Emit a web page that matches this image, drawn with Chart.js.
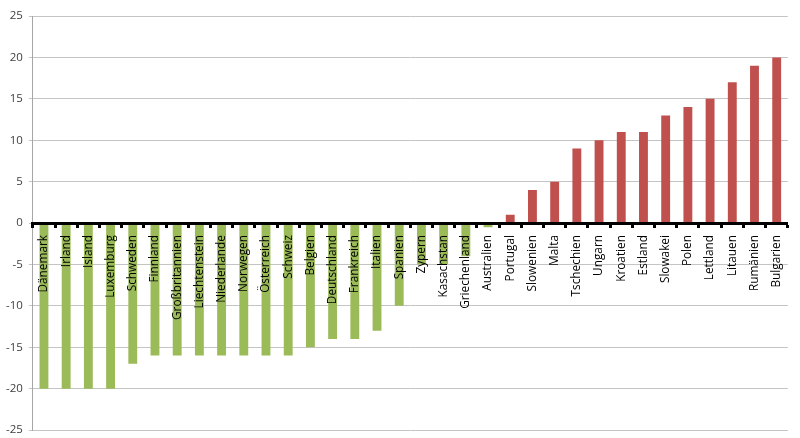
<!DOCTYPE html>
<html>
<head>
<meta charset="utf-8">
<script src="https://cdn.jsdelivr.net/npm/chart.js@4"></script>
<style>
  html, body { margin: 0; padding: 0; background: #fff; overflow: hidden; }
  #box { width: 800px; height: 443px; position: relative; }
</style>
</head>
<body>
<div id="box"><canvas id="grafico"></canvas></div>
<script>
// Länder (Kategorien) und Werte
const laender = ['Dänemark', 'Irland', 'Island', 'Luxemburg', 'Schweden', 'Finnland', 'Großbritannien',
    'Liechtenstein', 'Niederlande', 'Norwegen', 'Österreich', 'Schweiz', 'Belgien', 'Deutschland',
    'Frankreich', 'Italien', 'Spanien', 'Zypern', 'Kasachstan', 'Griechenland', 'Australien', 'Portugal',
    'Slowenien', 'Malta', 'Tschechien', 'Ungarn', 'Kroatien', 'Estland', 'Slowakei', 'Polen', 'Lettland',
    'Litauen', 'Rumänien', 'Bulgarien'];
const werte = [-20, -20, -20, -20, -17, -16, -16, -16, -16, -16, -16, -16, -15, -14, -14, -13, -10,
    -5, -5, -4, -0.5, 1, 4, 5, 9, 10, 11, 11, 13, 14, 15, 17, 19, 20];
const yTicks = [-25, -20, -15, -10, -5, 0, 5, 10, 15, 20, 25];

const gruen = '#9bbb59';
const rot = '#c0504d';

const ctx = document.getElementById('grafico').getContext('2d');
window.chartLaender = new Chart(ctx, {
    type: 'bar',
    data: {
        labels: laender,
        datasets: [{
            data: werte,
            backgroundColor: werte.map(v => v < 0 ? gruen : rot),
            barPercentage: 0.4,
            categoryPercentage: 1
        }]
    },
    options: {
        responsive: true, maintainAspectRatio: false, animation: false,
        layout: { padding: { top: 16, right: 10, bottom: 0, left: 0 } },
        plugins: { legend: { display: false }, tooltip: { enabled: false } },
        scales: {
            x: {
                position: { y: 0 },
                afterFit: s => { s.height = 0; },
                grid: { drawOnChartArea: false, drawTicks: true, tickLength: 3, tickWidth: 3, color: '#000', offset: true, z: 1 },
                border: { color: '#000', width: 3, z: 1 },
                ticks: {
                    z: 1, // Beschriftung über den Balken
                    autoSkip: false, maxRotation: 90, minRotation: 90, padding: 9,
                    color: '#000', font: { family: 'Open Sans', size: 11.8 }
                }
            },
            y: {
                min: -25, max: 25,
                afterBuildTicks: s => { s.ticks = yTicks.map(v => ({ value: v })); },
                grid: { color: '#c4c4c4', tickLength: 4 },
                border: { color: '#a6a6a6' },
                ticks: { color: '#404040', padding: 6, font: { family: 'Open Sans', size: 11.5 } }
            }
        }
    }
});
</script>
</body>
</html>
